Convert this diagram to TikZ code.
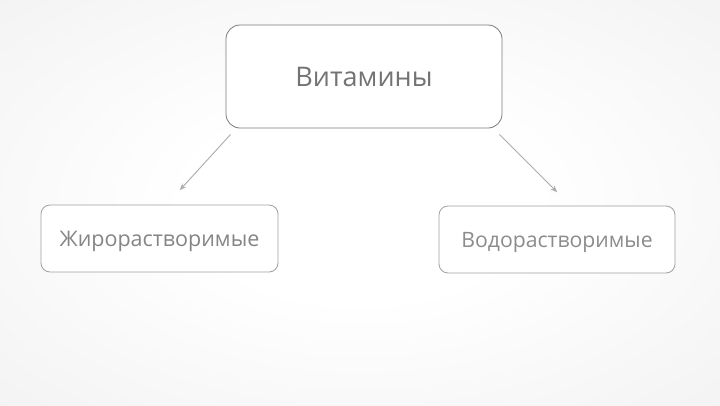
\documentclass[tikz,border=0pt]{standalone}
\usepackage{fontspec}
\setmainfont{Open Sans}
\usepackage{xcolor}
\usetikzlibrary{arrows.meta,positioning}

\definecolor{bgedge}{HTML}{F1F1F1}
\definecolor{boxline}{HTML}{7A7A7A}
\definecolor{boxlinelight}{HTML}{A0A0A0}
\definecolor{arrowgray}{HTML}{ABABAB}
\pgfdeclareradialshading{bgglow}{\pgfpoint{0bp}{0bp}}{%
  color(0bp)=(white); color(12bp)=(white); color(40bp)=(bgedge); color(70bp)=(bgedge)}

\begin{document}
\begin{tikzpicture}[x=1pt, y=-1pt, >=Stealth,
    box/.style={draw=boxlinelight, fill=white, rounded corners=9pt, line width=0.8pt,
                inner sep=0pt, text=black!48, text depth=0pt},
    link/.style={->, arrowgray, line width=0.9pt, shorten >=1pt}]
  % Background
  \fill[shading=bgglow] (0,0) rectangle (720,405);
  \useasboundingbox (0,0) rectangle (720,405);

  % Nodes
  \node[box, draw=boxline, rounded corners=14pt, minimum width=276pt, minimum height=103pt,
        font=\fontsize{27}{30}\selectfont, text=black!55] (vitamins) at (364,76.5) {Витамины};
  \node[box, minimum width=237pt, minimum height=67pt,
        font=\fontsize{21.5}{24}\selectfont] (fatsol) at (159.5,238.5) {Жирорастворимые};
  \node[box, minimum width=236pt, minimum height=67pt,
        font=\fontsize{21.2}{24}\selectfont, text=black!45] (watersol) at (557,239.5) {Водорастворимые};

  % Connectors
  \coordinate (fatend) at (179,191);
  \coordinate (waterend) at (558,193);
  \draw[link] ([xshift=5pt,yshift=-6pt]vitamins.south west) -- (fatend);
  \draw[link] ([xshift=-3pt,yshift=-6pt]vitamins.south east) -- (waterend);
\end{tikzpicture}
\end{document}
